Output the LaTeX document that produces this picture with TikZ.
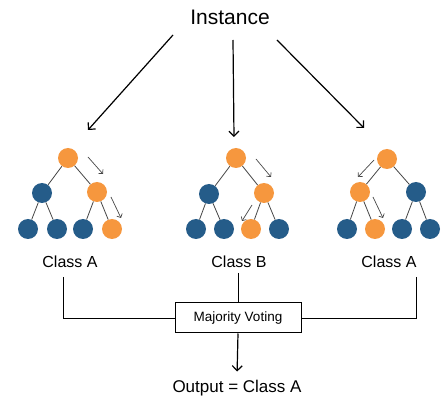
\documentclass[tikz,border=0pt]{standalone}
\usepackage{fontspec}
\setmainfont{Liberation Sans}
\usetikzlibrary{arrows.meta}
\definecolor{leafblue}{HTML}{255C89}
\definecolor{pathorange}{HTML}{F6973E}
\definecolor{edgegray}{HTML}{454545}

\begin{document}
\begin{tikzpicture}[x=1pt,y=-1pt,>={Straight Barb[length=5pt,width=10pt]},
    bnode/.style={circle,fill=leafblue,minimum size=20pt,inner sep=0pt},
    onode/.style={circle,fill=pathorange,minimum size=20pt,inner sep=0pt},
    edge/.style={draw=edgegray,line width=0.8pt},
    hint/.style={-{Straight Barb[length=3pt,width=6pt]},draw=edgegray,line width=0.7pt},
    classtext/.style={font=\fontsize{16}{19}\selectfont}]
                \useasboundingbox (0,0) rectangle (448,401);

                \node[font=\fontsize{21}{25}\selectfont] (inst) at (230,17) {Instance};
                \coordinate (s1) at (173,35); \coordinate (e1) at (88,130);
                \coordinate (s2) at (233,40); \coordinate (e2) at (234,137);
                \coordinate (s3) at (277,40); \coordinate (e3) at (364,128);
                \draw[->,line width=1.2pt] (s1) to (e1);
                \draw[->,line width=1.2pt] (s2) to (e2);
                \draw[->,line width=1.2pt] (s3) to (e3);

                % first tree
                \node[onode] (r1) at (68,158) {};
                \node[bnode] (a1) at (42,193) {};
                \node[onode] (b1) at (97,192) {};
                \node[bnode] (a1l) at (28,229) {}; \node[bnode] (a1r) at (57,229) {};
                \node[bnode] (b1l) at (83,229) {}; \node[onode] (b1r) at (112,229) {};
                \draw[edge] (r1) to (a1); \draw[edge] (r1) to (b1);
                \draw[edge] (a1) to (a1l); \draw[edge] (a1) to (a1r);
                \draw[edge] (b1) to (b1l); \draw[edge] (b1) to (b1r);
                \coordinate (h1s) at (88,157); \coordinate (h1e) at (103,174);
                \coordinate (g1s) at (111,197); \coordinate (g1e) at (121,218);
                \draw[hint] (h1s) to (h1e); \draw[hint] (g1s) to (g1e);

                % second tree
                \node[onode] (r2) at (236,158) {};
                \node[bnode] (a2) at (209,194) {};
                \node[onode] (b2) at (264,193) {};
                \node[bnode] (a2l) at (196,229) {}; \node[bnode] (a2r) at (224,229) {};
                \node[onode] (b2l) at (251,229) {}; \node[bnode] (b2r) at (279,229) {};
                \draw[edge] (r2) to (a2); \draw[edge] (r2) to (b2);
                \draw[edge] (a2) to (a2l); \draw[edge] (a2) to (a2r);
                \draw[edge] (b2) to (b2l); \draw[edge] (b2) to (b2r);
                \coordinate (h2s) at (256,159); \coordinate (h2e) at (271,177);
                \coordinate (g2s) at (252,205); \coordinate (g2e) at (242,221);
                \draw[hint] (h2s) to (h2e); \draw[hint] (g2s) to (g2e);

                % third tree
                \node[onode] (r3) at (387,159) {};
                \node[onode] (a3) at (360,192) {};
                \node[bnode] (b3) at (416,192) {};
                \node[bnode] (a3l) at (347,229) {}; \node[onode] (a3r) at (375,229) {};
                \node[bnode] (b3l) at (402,229) {}; \node[bnode] (b3r) at (430,229) {};
                \draw[edge] (r3) to (a3); \draw[edge] (r3) to (b3);
                \draw[edge] (a3) to (a3l); \draw[edge] (a3) to (a3r);
                \draw[edge] (b3) to (b3l); \draw[edge] (b3) to (b3r);
                \coordinate (h3s) at (374,160); \coordinate (h3e) at (358,177);
                \coordinate (g3s) at (373,197); \coordinate (g3e) at (383,218);
                \draw[hint] (h3s) to (h3e); \draw[hint] (g3s) to (g3e);

                \node[classtext] (c1) at (70,262) {Class A};
                \node[classtext] (c2) at (239,262) {Class B};
                \node[classtext] (c3) at (389,262) {Class A};

                \node[draw,line width=1pt,minimum width=126pt,minimum height=30pt,
                    font=\fontsize{13.5}{16}\selectfont] (vote) at (238,318) {Majority Voting};
                \coordinate (v1) at (63,277); \coordinate (v2) at (238,273); \coordinate (v3) at (416,277);
                \draw[line width=0.8pt] (v1) |- (vote.west);
                \draw[line width=0.8pt] (v2) to (vote.north);
                \draw[line width=0.8pt] (v3) |- (vote.east);

                \node[font=\fontsize{17}{20}\selectfont] (out) at (237,388) {Output = Class A};
                \draw[->,line width=1.2pt,shorten >=5pt] (vote.south) to (out.north);
            \end{tikzpicture}
\end{document}
